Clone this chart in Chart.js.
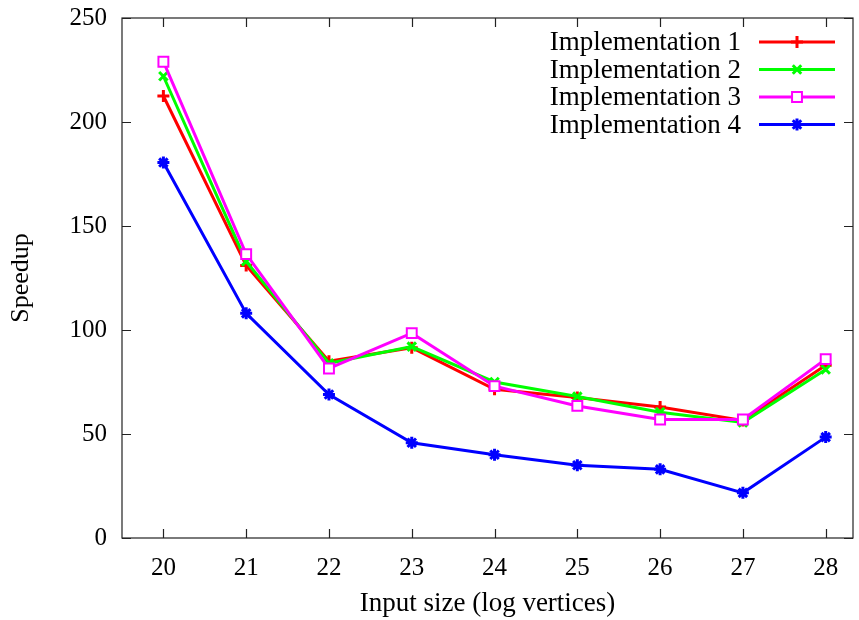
<!DOCTYPE html>
<html>
<head>
<meta charset="utf-8">
<script src="https://cdn.jsdelivr.net/npm/chart.js@4.4.1/dist/chart.umd.min.js"></script>
<style>
  html, body { margin: 0; padding: 0; background: #fff; }
  #wrap { width: 859px; height: 620px; }
</style>
</head>
<body>
<div id="wrap"><canvas id="speedup" width="859" height="620"></canvas></div>
<script>
// input sizes (log vertices)
const sizes = ['20', '21', '22', '23', '24', '25', '26', '27', '28'];

// speedup per implementation
const impl1 = [212.5, 131, 85, 91.5, 71.5, 67.5, 63, 56.5, 83];
const impl2 = [222, 133, 84, 92, 75, 68, 60.5, 55.5, 81];
const impl3 = [229, 136.5, 81.5, 98.5, 73, 63.5, 57, 57, 86];
const impl4 = [180.5, 108, 69, 45.8, 40, 35, 33, 21.7, 48.5];

const names = ['Implementation 1', 'Implementation 2', 'Implementation 3', 'Implementation 4'];
const colors = ['#ff0000', '#00ff00', '#ff00ff', '#0000ff'];
const marks = ['cross', 'crossRot', 'rect', 'star'];

const FONT = "'Liberation Serif', 'Times New Roman', serif";

function makeSet(i, values) {
    return {
        label: names[i],
        data: values.map((v, k) => ({ x: +sizes[k], y: v })),
        borderColor: colors[i],
        backgroundColor: colors[i],
        borderWidth: 3,
        pointStyle: marks[i],
        pointRadius: marks[i] == 'rect' ? 7 : 6,
        pointBorderWidth: marks[i] == 'rect' ? 2 : 3,
        pointBackgroundColor: marks[i] == 'rect' ? '#ffffff' : colors[i],
        pointBorderColor: colors[i],
        tension: 0,
        order: 4 - i   // later series on top, like gnuplot
    };
}

// frame + inward ticks on all four sides (gnuplot look)
const framePlugin = {
    id: 'frame',
    beforeDatasetsDraw(chart) {
        const ctx = chart.ctx;
        const a = chart.chartArea;
        const xs = chart.scales.x, ys = chart.scales.y;
        ctx.save();
        ctx.strokeStyle = '#222';
        ctx.lineWidth = 1.2;
        ctx.strokeRect(a.left, a.top, a.right - a.left, a.bottom - a.top);
        ctx.beginPath();
        xs.ticks.forEach(t => {
            const x = Math.round(xs.getPixelForValue(t.value)) + 0.5;
            ctx.moveTo(x, a.bottom); ctx.lineTo(x, a.bottom - 9);
            ctx.moveTo(x, a.top); ctx.lineTo(x, a.top + 9);
        });
        ys.ticks.forEach(t => {
            const y = Math.round(ys.getPixelForValue(t.value)) + 0.5;
            ctx.moveTo(a.left, y); ctx.lineTo(a.left + 9, y);
            ctx.moveTo(a.right, y); ctx.lineTo(a.right - 9, y);
        });
        ctx.stroke();
        ctx.restore();
    }
};

// key in the top right corner: text first, then line sample
const keyPlugin = {
    id: 'key',
    afterDatasetsDraw(chart) {
        const ctx = chart.ctx;
        ctx.save();
        chart.data.datasets.forEach((ds, i) => {
            const y = 42 + i * 27.5;
            ctx.font = '27px ' + FONT;
            ctx.fillStyle = '#000';
            ctx.textAlign = 'right';
            ctx.textBaseline = 'middle';
            ctx.fillText(ds.label, 741, y + 1);
            ctx.strokeStyle = ds.borderColor;
            ctx.lineWidth = 3;
            ctx.beginPath();
            ctx.moveTo(759, y); ctx.lineTo(835, y);
            ctx.stroke();
            ctx.fillStyle = ds.pointBackgroundColor;
            ctx.lineWidth = ds.pointBorderWidth;
            Chart.helpers.drawPoint(ctx, {
                pointStyle: ds.pointStyle, rotation: 0,
                radius: ds.pointRadius, borderWidth: ds.pointBorderWidth
            }, 797, y);
        });
        ctx.restore();
    }
};

const ctx = document.getElementById('speedup').getContext('2d');
const chart = new Chart(ctx, {
    type: 'line',
    data: {
        datasets: [makeSet(0, impl1), makeSet(1, impl2), makeSet(2, impl3), makeSet(3, impl4)]
    },
    options: {
        responsive: false,
        animation: false,
        layout: { autoPadding: false, padding: { top: 18, right: 6, left: 0, bottom: 0 } },
        plugins: { legend: { display: false }, tooltip: { enabled: false } },
        scales: {
            x: {
                type: 'linear',
                min: 19.5, max: 28.33,
                grid: { display: false, drawTicks: false },
                border: { display: false },
                ticks: { color: '#000', padding: 15, font: { family: FONT, size: 25 }, maxRotation: 0 },
                afterBuildTicks(s) { s.ticks = sizes.map(v => ({ value: +v })); },
                title: { display: true, text: 'Input size (log vertices)', color: '#000',
                         padding: { top: 0, bottom: 0 }, font: { family: FONT, size: 27 } },
                afterFit(s) { s.height = 82; s.paddingLeft = 0; s.paddingRight = 0; }
            },
            y: {
                min: 0, max: 250,
                grid: { display: false, drawTicks: false },
                border: { display: false },
                ticks: { stepSize: 50, color: '#000', padding: 15, font: { family: FONT, size: 25 } },
                title: { display: true, text: 'Speedup', color: '#000',
                         padding: { top: 6, bottom: 0 }, font: { family: FONT, size: 26 } },
                afterFit(s) {
                    s.width = 122;
                    s.paddingTop = 0; s.paddingBottom = 0;
                }
            }
        }
    },
    plugins: [framePlugin, keyPlugin]
});
</script>
</body>
</html>
